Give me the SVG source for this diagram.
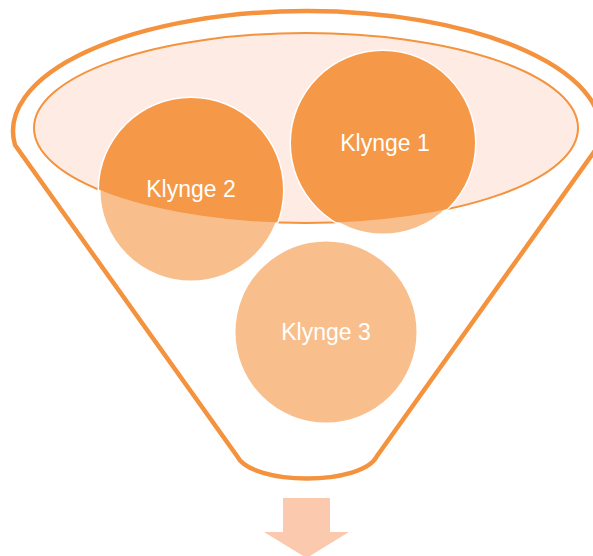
<svg xmlns="http://www.w3.org/2000/svg" width="593" height="556" viewBox="0 0 593 556">
<style>
.outline{fill:#ffffff;stroke:#F4923D;stroke-width:4.5;stroke-linejoin:round}
.inner{fill:#FDEBE4;stroke:#F4923D;stroke-width:2}
.light{fill:#F8BF8D;stroke:#ffffff;stroke-width:3}
.dark{fill:#F59848}
.lbl{font-family:"Liberation Sans",Arial,sans-serif;font-size:23px;fill:#ffffff;text-anchor:middle}
.arrow{fill:#FAC9AE}
</style>
<defs>
<clipPath id="ellClip"><ellipse cx="306" cy="128" rx="272" ry="95"/></clipPath>
</defs>
<g id="funnel">
<path class="outline" d="M 237 456 L 15 145 A 294 120 0 1 1 599 145 L 377 456 C 362 486, 252 486, 237 456 Z"/>
<ellipse class="inner" cx="306" cy="128" rx="272" ry="95"/>
</g>
<g id="node-klynge3">
<circle class="light" cx="326" cy="332" r="92"/>
<text class="lbl" x="326" y="340">Klynge 3</text>
</g>
<g id="node-klynge2">
<circle class="light" cx="191" cy="190" r="92"/>
<circle class="dark" cx="191" cy="190" r="92" clip-path="url(#ellClip)"/>
<text class="lbl" x="191" y="197">Klynge 2</text>
</g>
<g id="node-klynge1">
<circle class="light" cx="383" cy="143" r="92"/>
<circle class="dark" cx="383" cy="143" r="92" clip-path="url(#ellClip)"/>
<text class="lbl" x="385" y="151">Klynge 1</text>
</g>
<g id="connectors">
<polygon class="arrow" points="283,498 330,498 330,532 349,532 306.5,558 264,532 283,532"/>
</g>
</svg>
